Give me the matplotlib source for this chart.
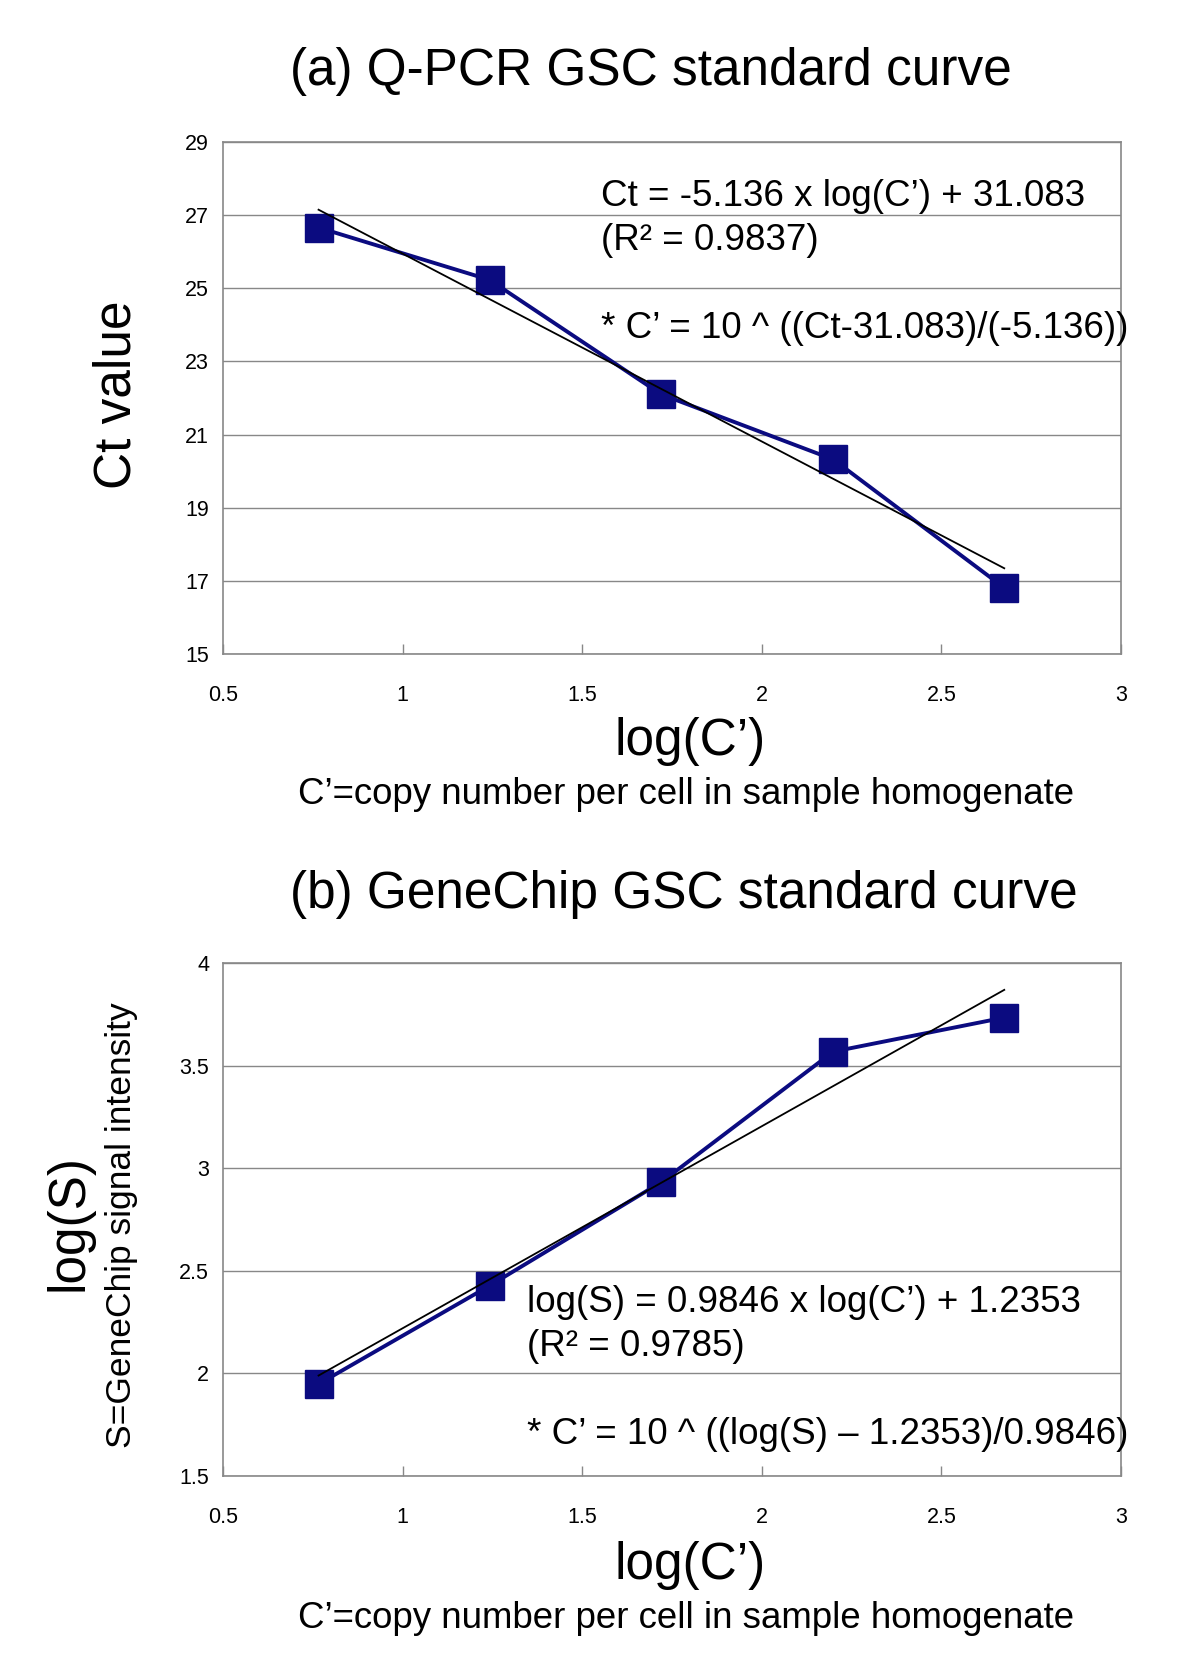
import matplotlib
matplotlib.use("Agg")
import matplotlib.pyplot as plt
from matplotlib import font_manager
import numpy as np

# font: Arial-like; narrow variant for ticks if installed
names = {f.name for f in font_manager.fontManager.ttflist}
MAIN = "Liberation Sans"
NARROW = "Liberation Sans Narrow" if "Liberation Sans Narrow" in names else MAIN
plt.rcParams["font.family"] = [MAIN, "DejaVu Sans"]

# --- data -------------------------------------------------------------------
log_c = [0.766, 1.242, 1.72, 2.199, 2.675]          # log(C')
ct_values = [26.66, 25.23, 22.10, 20.32, 16.81]     # panel (a)
log_s = [1.948, 2.427, 2.932, 3.568, 3.734]         # panel (b)

fit_a = (-5.136, 31.083)   # slope, intercept
fit_b = (0.9846, 1.2353)

xticks = [0.5, 1, 1.5, 2, 2.5, 3]
xtick_labels = ["0.5", "1", "1.5", "2", "2.5", "3"]
yticks_a = [15, 17, 19, 21, 23, 25, 27, 29]
yticks_b = [1.5, 2, 2.5, 3, 3.5, 4]
ytick_labels_b = ["1.5", "2", "2.5", "3", "3.5", "4"]

NAVY = "#0b0b80"
GRID = "#888888"
W, H = 1200, 1670


def setup_axes(ax, yticks, ylabels):
    ax.set_xlim(0.5, 3)
    ax.set_ylim(yticks[0], yticks[-1])
    ax.set_xticks(xticks)
    ax.set_xticklabels(xtick_labels, fontsize=15.5, family=NARROW)
    ax.set_yticks(yticks)
    ax.set_yticklabels(ylabels, fontsize=15.5, family=NARROW)
    ax.tick_params(axis="x", direction="in", length=7, width=1, color=GRID, pad=22)
    ax.tick_params(axis="y", length=0, pad=10)
    ax.grid(axis="y", color=GRID, linewidth=1)
    ax.set_axisbelow(True)
    for s in ax.spines.values():
        s.set_color(GRID)
        s.set_linewidth(1.2)


def draw(ax, x, y, fit):
    x = np.asarray(x)
    ax.plot(x, y, color=NAVY, linewidth=2.8, marker="s", markersize=20,
            markerfacecolor=NAVY, markeredgecolor=NAVY, zorder=3)
    xf = np.array([x.min(), x.max()])
    ax.plot(xf, fit[0] * xf + fit[1], color="black", linewidth=1.3, zorder=4)


fig = plt.figure(figsize=(W / 100, H / 100), dpi=100)

# panel (a)
ax1 = fig.add_axes([223 / W, 1 - 654 / H, (1121 - 223) / W, (654 - 142) / H])
setup_axes(ax1, yticks_a, [str(v) for v in yticks_a])
draw(ax1, log_c, ct_values, fit_a)
kw = dict(fontsize=26.5, ha="left", va="center", clip_on=False)
ax1.text(1.552, 27.51, "Ct = -5.136 x log(C\u2019) + 31.083", **kw)
ax1.text(1.552, 26.31, "(R\u00b2 = 0.9837)", **kw)
ax1.text(1.552, 23.91, "* C\u2019 = 10 ^ ((Ct-31.083)/(-5.136))", **kw)

# panel (b)
ax2 = fig.add_axes([223 / W, 1 - 1476 / H, (1121 - 223) / W, (1476 - 963) / H])
setup_axes(ax2, yticks_b, ytick_labels_b)
draw(ax2, log_c, log_s, fit_b)
ax2.text(1.345, 2.344, "log(S) = 0.9846 x log(C\u2019) + 1.2353", **kw)
ax2.text(1.345, 2.13, "(R\u00b2 = 0.9785)", **kw)
ax2.text(1.345, 1.703, "* C\u2019 = 10 ^ ((log(S) \u2013 1.2353)/0.9846)", **kw)

# titles and axis labels
fig.text(290 / W, 1 - 72 / H, "(a) Q-PCR GSC standard curve", fontsize=37,
         ha="left", va="center")
fig.text(290 / W, 1 - 895 / H, "(b) GeneChip GSC standard curve", fontsize=37,
         ha="left", va="center")

for yc, ys in ((742, 794), (1566, 1619)):
    fig.text(690 / W, 1 - yc / H, "log(C\u2019)", fontsize=37, ha="center", va="center")
    fig.text(686 / W, 1 - ys / H, "C\u2019=copy number per cell in sample homogenate",
             fontsize=26.4, ha="center", va="center")

fig.text(117 / W, 1 - 395 / H, "Ct value", fontsize=37, rotation=90,
         ha="center", va="center")
fig.text(69 / W, 1 - 1223 / H, "log(S)", fontsize=37, rotation=90,
         ha="center", va="center")
fig.text(122 / W, 1 - 1225 / H, "S=GeneChip signal intensity", fontsize=25.5,
         rotation=90, ha="center", va="center")

fig.savefig("out.png", dpi=100)
